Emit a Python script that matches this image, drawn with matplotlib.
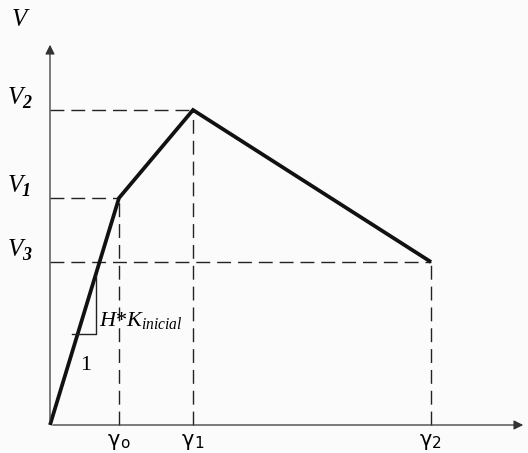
import matplotlib
matplotlib.use("Agg")
import matplotlib.pyplot as plt

plt.rcParams['mathtext.fontset'] = 'custom'
plt.rcParams['mathtext.it'] = 'Liberation Serif:italic'
plt.rcParams['mathtext.rm'] = 'Liberation Serif'

# Trilinear shear–distortion backbone: (gamma, V) control points
gamma_subs = ['o', '1', '2']
v_subs = ['1', '2', '3']
gamma_vals = [0, 69, 143, 381]
v_vals = [0, 227, 315, 163]

fig = plt.figure(figsize=(5.28, 4.53), dpi=100)
fig.patch.set_facecolor('#fbfbfb')
ax = fig.add_axes([0, 0, 1, 1])
ax.set_facecolor('#fbfbfb')
ax.set_xlim(-50, 478)
ax.set_ylim(-28, 425)
ax.axis('off')

axis_color = '#333333'
# coordinate axes with arrow heads
ax.annotate('', xy=(476, 0), xytext=(0, 0),
            arrowprops=dict(arrowstyle='-|>', color=axis_color, lw=0.9,
                            mutation_scale=14))
ax.annotate('', xy=(0, 383), xytext=(0, 0),
            arrowprops=dict(arrowstyle='-|>', color=axis_color, lw=0.9,
                            mutation_scale=14))

# dashed guide lines to each control point
dash = dict(color='#222222', lw=1.0, dashes=(10, 5))
for g, v in zip(gamma_vals[1:], v_vals[1:]):
    ax.plot([0, g], [v, v], **dash)
    ax.plot([g, g], [0, v], **dash)

# backbone curve
ax.plot(gamma_vals, v_vals, color='#111111', lw=2.7, solid_joinstyle='miter',
        solid_capstyle='butt')

# stiffness triangle on the initial branch
k0 = v_vals[1] / gamma_vals[1]
y_top, y_bot = 150, 91
x_right = y_top / k0
x_left = x_right - 24
ax.plot([x_left, x_right, x_right], [y_bot, y_bot, y_top], color='#222222', lw=1.0)
ax.text(x_right + 3, y_bot + 3, r'$H{*}K_{inicial}$', fontsize=16, ha='left', va='bottom')
ax.text(36, 60, '1', fontsize=16, ha='center', va='center', family='Liberation Serif')

serif_it = dict(family='Liberation Serif', style='italic')
# axis labels and tick annotations
ax.text(-31, 405, 'V', fontsize=18, ha='center', va='center', **serif_it)
for v, sub in zip(v_vals[1:], v_subs):
    ax.text(-27, v + 12, 'V', fontsize=18, ha='right', va='center', **serif_it)
    ax.text(-28, v + 7, sub, fontsize=13, ha='left', va='center',
            weight='bold', **serif_it)
for g, sub in zip(gamma_vals[1:], gamma_subs):
    ax.text(g + 1, -15, 'γ', fontsize=15, ha='right', va='center',
            family='DejaVu Sans')
    ax.text(g + 1, -18, sub, fontsize=11, ha='left', va='center',
            family='DejaVu Sans')

fig.savefig('out.png', dpi=100, facecolor=fig.get_facecolor())
